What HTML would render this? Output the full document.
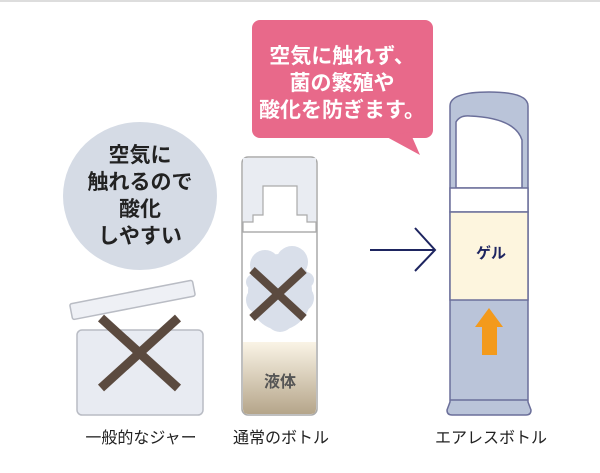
<!DOCTYPE html>
<html><head><meta charset="utf-8"><style>
body{margin:0;background:#fff;}
svg{display:block}
text{font-family:"Liberation Sans","Noto Sans CJK JP",sans-serif;}
</style></head><body>
<svg width="600" height="473" viewBox="0 0 600 473" xmlns="http://www.w3.org/2000/svg">
<line x1="0" y1="1" x2="600" y2="1" stroke="#ddd" stroke-width="2"/>
<ellipse cx="140" cy="196" rx="77" ry="74" fill="#d5dbe5"/>
<g font-size="21" font-weight="bold" fill="#222" text-anchor="middle">
<text x="140" y="162">空気に</text>
<text x="140" y="189">触れるので</text>
<text x="140" y="216">酸化</text>
<text x="140" y="243">しやすい</text>
</g>
<rect x="77" y="330" width="126" height="85" rx="5" fill="#e8ebf2" stroke="#b9bcc4" stroke-width="1.5"/>
<g transform="rotate(-11 132 300)"><rect x="70" y="292" width="125" height="16" rx="2" fill="#eef0f5" stroke="#b9bcc4" stroke-width="1.5"/></g>
<line x1="101" y1="318" x2="178" y2="388" stroke="#5b4a3f" stroke-width="9"/>
<line x1="178" y1="318" x2="101" y2="388" stroke="#5b4a3f" stroke-width="9"/>
<defs>
<linearGradient id="liq" x1="0" y1="0" x2="0" y2="1">
<stop offset="0" stop-color="#faf4e6"/><stop offset="1" stop-color="#b5a58a"/></linearGradient>
</defs>
<rect x="242" y="157" width="75" height="258" rx="6" fill="#fff" stroke="#aaa" stroke-width="1.5"/>
<rect x="243" y="158" width="73" height="74" fill="#e9ecf2"/>
<path d="M243 232 L243 222 L253 222 L253 215 L263 215 L263 186 L297 186 L297 215 L307 215 L307 222 L316 222 L316 232 Z" fill="#fff" stroke="#aaa" stroke-width="1.2"/>
<line x1="243" y1="232" x2="316" y2="232" stroke="#aaa" stroke-width="1.2"/>
<path d="M243 342 L316 342 L316 409 Q316 414 311 414 L248 414 Q243 414 243 409 Z" fill="url(#liq)"/>
<g fill="#d9dfea">
<ellipse cx="280" cy="292" rx="32" ry="38"/>
<circle cx="265" cy="265" r="15"/><circle cx="292" cy="262" r="16"/><circle cx="300" cy="298" r="14"/><circle cx="260" cy="300" r="14"/><circle cx="280" cy="318" r="14"/><circle cx="306" cy="280" r="8"/><circle cx="254" cy="282" r="8"/>
</g>
<line x1="252" y1="270" x2="304" y2="318" stroke="#5b4a3f" stroke-width="8"/>
<line x1="304" y1="270" x2="252" y2="318" stroke="#5b4a3f" stroke-width="8"/>
<text x="280" y="387" font-size="16" font-weight="bold" fill="#555" text-anchor="middle">液体</text>
<rect x="252" y="20" width="181" height="118" rx="8" fill="#e8698a"/>
<path d="M385 136 L420 155 L410 132 Z" fill="#e8698a"/>
<g font-size="21" font-weight="bold" fill="#fff" text-anchor="middle">
<text x="342" y="63">空気に触れず、</text>
<text x="342" y="90">菌の繁殖や</text>
<text x="342" y="117">酸化を防ぎます。</text>
</g>
<line x1="370" y1="250" x2="434" y2="250" stroke="#1e2560" stroke-width="2"/>
<polyline points="415,228 435,250 415,271" fill="none" stroke="#1e2560" stroke-width="2"/>
<path d="M450 106 Q450 92 489 92 Q528 92 528 106 L528 402 L531 410 Q531 415 526 415 L452 415 Q447 415 447 410 L450 402 Z" fill="#bac4d9" stroke="#6b6f9a" stroke-width="1.5"/>
<path d="M456 188 L456 122 Q460 115 470 116 Q515 118 522 140 L522 188 Z" fill="#fff" stroke="#6b6f9a" stroke-width="1.5"/>
<rect x="450" y="188" width="78" height="24" fill="#fff" stroke="#6b6f9a" stroke-width="1.5"/>
<rect x="450" y="212" width="78" height="88" fill="#fdf5de" stroke="#6b6f9a" stroke-width="1.5"/>
<line x1="450" y1="400" x2="528" y2="400" stroke="#6b6f9a" stroke-width="1.5"/>
<text x="491" y="258" font-size="15" font-weight="bold" fill="#1e2560" text-anchor="middle">ゲル</text>
<path d="M489 308 L503 327 L497 327 L497 355 L482 355 L482 327 L475 327 Z" fill="#f39a1c"/>
<g font-size="16" fill="#222" text-anchor="middle">
<text x="141" y="443">一般的なジャー</text>
<text x="281" y="443">通常のボトル</text>
<text x="491" y="443">エアレスボトル</text>
</g>
</svg>
</body></html>
